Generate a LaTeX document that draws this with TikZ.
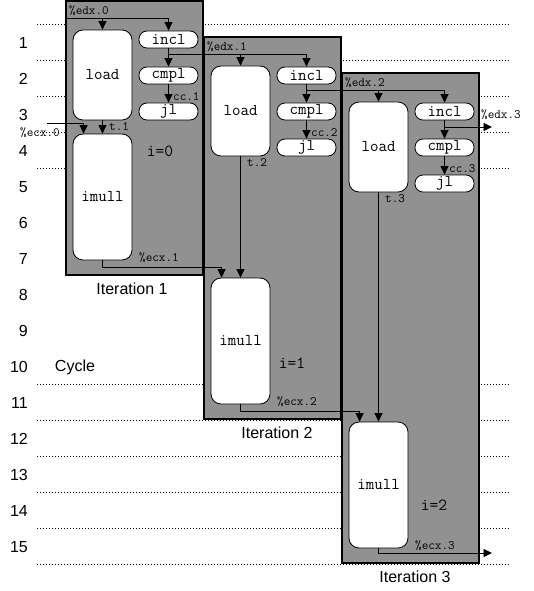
\documentclass[tikz,border=0pt]{standalone}
\usepackage{fontspec}
\setmainfont{Liberation Sans}
\usetikzlibrary{arrows.meta}
\definecolor{boxgray}{RGB}{145,145,145}
\begin{document}
\begin{tikzpicture}[x=1pt,y=-1pt,
 gbox/.style={draw=black,line width=1.5pt,fill=boxgray},
 opbox/.style={draw=black,line width=0.8pt,fill=white,rounded corners=10pt,minimum width=59pt,inner sep=0pt,font=\ttfamily\fontsize{16.5}{19}\selectfont},
 insbox/.style={draw=black,line width=0.8pt,fill=white,rounded corners=8pt,minimum width=59pt,minimum height=17pt,inner sep=0pt,font=\ttfamily\fontsize{16.5}{19}\selectfont},
 lbl/.style={font=\ttfamily\fontsize{12.8}{14}\selectfont,inner sep=0pt},
 ilbl/.style={font=\ttfamily\fontsize{17}{19}\selectfont,inner sep=0pt},
 sans/.style={font=\fontsize{16}{19}\selectfont,inner sep=0pt},
 wire/.style={line width=0.9pt},
 arr/.style={wire,-{Triangle[length=8.5pt,width=8pt]}},
 dotline/.style={line width=0.8pt,dash pattern=on 0.8pt off 2.2pt}]
\useasboundingbox (0,0) rectangle (533,591);
% cycle grid
\foreach \k in {0,1,2,3,4,10,11,12,13,14,15}
  \draw[dotline] (37,24+36*\k) -- (509,24+36*\k);
\foreach \k in {1,...,15}
  \node[sans,anchor=east] (cyc\k) at (28,43+36*\k-36) {\k};
\node[sans] (cyclbl) at (75,367) {Cycle};
% gray boxes
\foreach \i in {0,1,2}{
  \draw[gbox] (66+138*\i,1+36*\i) rectangle (203+138*\i,275+144*\i);
}
% box contents
\foreach \i in {0,1,2}{
  \pgfmathsetmacro\dx{138*\i}
  \pgfmathsetmacro\dy{36*\i}
  \pgfmathsetmacro\dd{144*\i}
  \pgfmathtruncatemacro\n{\i+1}
  \node[opbox,minimum height=90pt] (load\i) at (102.5+\dx,75+\dy) {load};
  \node[insbox] (incl\i) at (168.5+\dx,39.5+\dy) {incl};
  \node[insbox] (cmpl\i) at (168.5+\dx,75.5+\dy) {cmpl};
  \node[insbox] (jl\i) at (168.5+\dx,111.5+\dy) {jl};
  \node[opbox,minimum height=126pt] (imull\i) at (102.5+\dx,197+\dd) {imull};
  \node[lbl,anchor=west] (edxin\i) at (69+\dx,11+\dy) {\%edx.\i};
  \node[lbl,anchor=west] (cc\i) at (173+\dx,97+\dy) {cc.\n};
  \node[lbl,anchor=west] (t\i) at (109+\dx,127+\dy) {t.\n};
  \node[lbl,anchor=west] (ecxout\i) at (139+\dx,258+\dd) {\%ecx.\n};
  \coordinate (b\i) at (168.5+\dx,54+\dy);
  \draw[arr] (incl\i) -- (cmpl\i);
  \draw[arr] (cmpl\i) -- (jl\i);
  \draw[arr] (load\i) -- (imull\i);
}
\foreach \i/\x/\y in {0/160/151,1/292/363,2/434/505}
  \node[ilbl] (iv\i) at (\x,\y) {i=\i};
\foreach \i/\x/\y in {1/132/289,2/277/433,3/415/577}
  \node[sans] (iter\i) at (\x,\y) {Iteration \i};
% %edx chain
\coordinate (e0) at (67,18);
\draw[arr] (e0) -| (incl0.north);
\draw[arr] (load0.north |- e0) -- (load0.north);
\draw[arr] (b0) -| (incl1.north);
\draw[arr] (load1.north |- b0) -- (load1.north);
\draw[arr] (b1) -| (incl2.north);
\draw[arr] (load2.north |- b1) -- (load2.north);
\coordinate (edx3end) at (492,127);
\draw[arr] (b2 |- edx3end) -- (edx3end);
\node[lbl,anchor=west] (edxout) at (481,115) {\%edx.3};
% %ecx chain
\node[lbl] (ecxin) at (40,133) {\%ecx.0};
\coordinate (c0) at (47,123);
\draw[arr] (c0) -| ([xshift=11pt]imull0.north west);
\draw[arr] (imull0.south) -- ++(0,7) -| ([xshift=11pt]imull1.north west);
\draw[arr] (imull1.south) -- ++(0,7) -| ([xshift=11pt]imull2.north west);
\coordinate (ecx3end) at (492,553);
\draw[arr] (imull2.south) |- (ecx3end);
\end{tikzpicture}
\end{document}
